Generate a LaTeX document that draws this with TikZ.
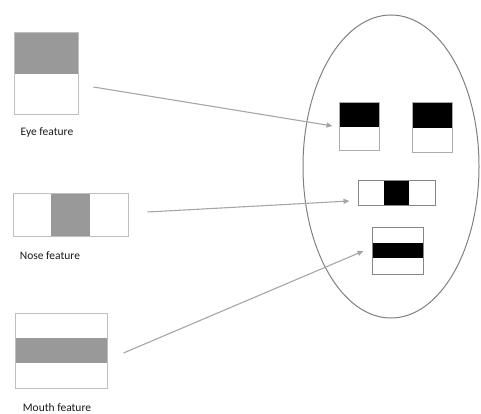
\documentclass[tikz,border=0pt]{standalone}
\usepackage{fontspec}
\setmainfont{Carlito}
\usetikzlibrary{arrows.meta,shapes.geometric,calc}
\definecolor{featgray}{HTML}{999999}
\definecolor{boxgray}{HTML}{BFBFBF}
\definecolor{arrowgray}{HTML}{A6A6A6}
\definecolor{facegray}{HTML}{808080}
\begin{document}
\begin{tikzpicture}[x=1pt,y=-1pt,
  fbox/.style={draw=boxgray, line width=1pt, rectangle, inner sep=0pt, fill=white},
  topband/.style={path picture={\fill[#1] (path picture bounding box.north west) rectangle (path picture bounding box.east);}},
  midcol/.style={path picture={\fill[#1] ($(path picture bounding box.north west)!1/3!(path picture bounding box.north east)$) rectangle ($(path picture bounding box.south west)!2/3!(path picture bounding box.south east)$);}},
  midrow/.style={path picture={\fill[#1] ($(path picture bounding box.north west)!1/3!(path picture bounding box.south west)$) rectangle ($(path picture bounding box.north east)!2/3!(path picture bounding box.south east)$);}},
  lbl/.style={font=\fontsize{11.5}{13}\selectfont, inner sep=0pt, text=black!90},
  conn/.style={draw=arrowgray, line width=1.1pt, -{Triangle[length=6pt,width=5pt]}}
]
\useasboundingbox (0,0) rectangle (481,414);
% left feature templates
\node[fbox, topband=featgray, minimum width=64pt, minimum height=82pt] (eye) at (46,74) {};
\node[fbox, midcol=featgray, minimum width=115pt, minimum height=43pt] (nose) at (70.5,214.5) {};
\node[fbox, midrow=featgray, minimum width=92pt, minimum height=75pt] (mouth) at (61,350.5) {};
\node[lbl] (eyelbl) at (47,132) {Eye feature};
\node[lbl] (noselbl) at (50,256) {Nose feature};
\node[lbl] (mouthlbl) at (57,407.5) {Mouth feature};
% face
\node[draw=facegray, line width=1pt, ellipse, inner sep=0pt, minimum width=176pt, minimum height=303pt] (face) at (391,166.5) {};
\node[fbox, draw=boxgray!90!black, topband=black, minimum width=40pt, minimum height=48pt] (leye) at (359,127) {};
\node[fbox, draw=boxgray!90!black, topband=black, minimum width=40pt, minimum height=50pt] (reye) at (432,128) {};
\node[fbox, draw=boxgray!70!black, midcol=black, minimum width=77pt, minimum height=25pt] (fnose) at (396.5,192.5) {};
\node[fbox, draw=boxgray!70!black, midrow=black, minimum width=51pt, minimum height=47pt] (fmouth) at (397.5,250.5) {};
% connectors
\coordinate (eyeout) at ($(eye.east)+(15,13)$);
\coordinate (eyein) at ($(leye.west)+(-6,-1)$);
\coordinate (noseout) at ($(nose.east)+(19,-2.5)$);
\coordinate (nosein) at ($(fnose.west)+(-8,8.5)$);
\coordinate (mouthout) at ($(mouth.east)+(16,2.5)$);
\coordinate (mouthin) at ($(fmouth.west)+(-8,0.5)$);
\draw[conn] (eyeout) -- (eyein);
\draw[conn] (noseout) -- (nosein);
\draw[conn] (mouthout) -- (mouthin);
\end{tikzpicture}
\end{document}
